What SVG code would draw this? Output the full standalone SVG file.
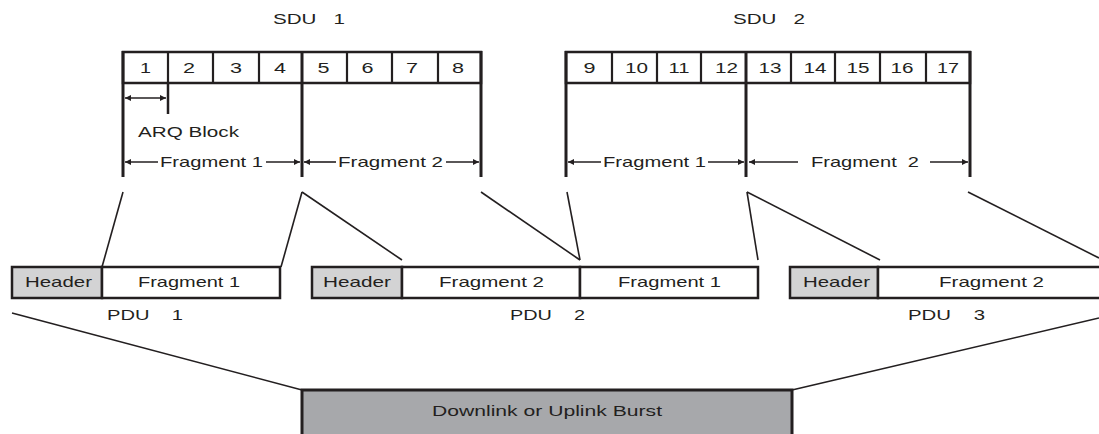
<svg xmlns="http://www.w3.org/2000/svg" width="1099" height="434" viewBox="0 0 1099 434">
  <style>
    text { font-family: "Liberation Sans", Arial, sans-serif; font-size: 15px; fill: #231f20; text-anchor: middle; white-space: pre; }
    .box { fill: #ffffff; stroke: #231f20; stroke-width: 2.5; }
    .hdr { fill: #d3d3d4; stroke: #231f20; stroke-width: 2.5; }
    .burst { fill: #a7a8ab; stroke: #231f20; stroke-width: 3; }
    .cell { stroke: #231f20; stroke-width: 2.2; fill: none; }
    .bar { stroke: #231f20; stroke-width: 3; fill: none; }
    .thin { stroke: #231f20; stroke-width: 1.6; fill: none; }
    .dim { stroke: #231f20; stroke-width: 1.6; fill: none; }
  </style>
  <defs>
    <marker id="ah" viewBox="0 0 10 10" refX="10" refY="5" markerWidth="8" markerHeight="6" markerUnits="userSpaceOnUse" orient="auto-start-reverse">
      <path d="M0,0 L10,5 L0,10 z" fill="#231f20"/>
    </marker>
  </defs>

  <!-- SDU 1 -->
  <g id="sdu1">
    <text x="309" y="24" textLength="72" lengthAdjust="spacingAndGlyphs" xml:space="preserve">SDU   1</text>
    <rect class="box" x="123" y="52" width="358" height="31"/>
    <path class="cell" d="M168,52V83 M213,52V83 M259,52V83 M347,52V83 M392,52V83 M438,52V83"/>
    <path class="bar" d="M123,51V177 M302,51V177 M481,51V177"/>
    <text x="145.5" y="73" textLength="11" lengthAdjust="spacingAndGlyphs">1</text>
    <text x="189" y="73" textLength="12" lengthAdjust="spacingAndGlyphs">2</text>
    <text x="236" y="73" textLength="12" lengthAdjust="spacingAndGlyphs">3</text>
    <text x="280" y="73" textLength="12" lengthAdjust="spacingAndGlyphs">4</text>
    <text x="323.5" y="73" textLength="12" lengthAdjust="spacingAndGlyphs">5</text>
    <text x="367.5" y="73" textLength="12" lengthAdjust="spacingAndGlyphs">6</text>
    <text x="412" y="73" textLength="12" lengthAdjust="spacingAndGlyphs">7</text>
    <text x="458" y="73" textLength="12" lengthAdjust="spacingAndGlyphs">8</text>
    <!-- ARQ block span -->
    <path class="bar" d="M168,83V114" style="stroke-width:2.5"/>
    <line class="dim" x1="125" y1="98" x2="166" y2="98" marker-start="url(#ah)" marker-end="url(#ah)"/>
    <text x="188.5" y="137" textLength="101" lengthAdjust="spacingAndGlyphs">ARQ Block</text>
    <!-- fragment spans -->
    <line class="dim" x1="158" y1="162" x2="125" y2="162" marker-end="url(#ah)"/>
    <text x="211.5" y="167" textLength="103" lengthAdjust="spacingAndGlyphs">Fragment 1</text>
    <line class="dim" x1="266" y1="162" x2="300" y2="162" marker-end="url(#ah)"/>
    <line class="dim" x1="336" y1="162" x2="304" y2="162" marker-end="url(#ah)"/>
    <text x="390.5" y="167" textLength="105" lengthAdjust="spacingAndGlyphs">Fragment 2</text>
    <line class="dim" x1="446" y1="162" x2="479" y2="162" marker-end="url(#ah)"/>
  </g>

  <!-- SDU 2 -->
  <g id="sdu2">
    <text x="769" y="24" textLength="72" lengthAdjust="spacingAndGlyphs" xml:space="preserve">SDU   2</text>
    <rect class="box" x="566" y="52" width="404" height="31"/>
    <path class="cell" d="M612,52V83 M657,52V83 M701,52V83 M791,52V83 M835,52V83 M880,52V83 M926,52V83"/>
    <path class="bar" d="M566,51V177 M746,51V177 M970,51V177"/>
    <text x="589.5" y="73" textLength="12" lengthAdjust="spacingAndGlyphs">9</text>
    <text x="636.5" y="73" textLength="23" lengthAdjust="spacingAndGlyphs">10</text>
    <text x="679" y="73" textLength="21" lengthAdjust="spacingAndGlyphs">11</text>
    <text x="726.5" y="73" textLength="23" lengthAdjust="spacingAndGlyphs">12</text>
    <text x="770" y="73" textLength="23" lengthAdjust="spacingAndGlyphs">13</text>
    <text x="815" y="73" textLength="23" lengthAdjust="spacingAndGlyphs">14</text>
    <text x="858" y="73" textLength="23" lengthAdjust="spacingAndGlyphs">15</text>
    <text x="902" y="73" textLength="23" lengthAdjust="spacingAndGlyphs">16</text>
    <text x="948" y="73" textLength="22" lengthAdjust="spacingAndGlyphs">17</text>
    <line class="dim" x1="601" y1="162" x2="568" y2="162" marker-end="url(#ah)"/>
    <text x="654.5" y="167" textLength="103" lengthAdjust="spacingAndGlyphs">Fragment 1</text>
    <line class="dim" x1="708" y1="162" x2="744" y2="162" marker-end="url(#ah)"/>
    <line class="dim" x1="798" y1="162" x2="749" y2="162" marker-end="url(#ah)"/>
    <text x="865" y="167" textLength="108" lengthAdjust="spacingAndGlyphs" xml:space="preserve">Fragment  2</text>
    <line class="dim" x1="930" y1="162" x2="968" y2="162" marker-end="url(#ah)"/>
  </g>

  <!-- PDU 1 -->
  <g id="pdu1">
    <rect class="hdr" x="12" y="267" width="90" height="31"/>
    <rect class="box" x="102" y="267" width="178" height="31"/>
    <text x="58.5" y="287" textLength="67" lengthAdjust="spacingAndGlyphs">Header</text>
    <text x="189" y="287" textLength="102" lengthAdjust="spacingAndGlyphs">Fragment 1</text>
    <text x="145" y="320" textLength="76" lengthAdjust="spacingAndGlyphs" xml:space="preserve">PDU    1</text>
  </g>

  <!-- PDU 2 -->
  <g id="pdu2">
    <rect class="hdr" x="312" y="267" width="90" height="31"/>
    <rect class="box" x="402" y="267" width="178" height="31"/>
    <rect class="box" x="580" y="267" width="178" height="31"/>
    <text x="357" y="287" textLength="68" lengthAdjust="spacingAndGlyphs">Header</text>
    <text x="491.5" y="287" textLength="105" lengthAdjust="spacingAndGlyphs">Fragment 2</text>
    <text x="669.5" y="287" textLength="103" lengthAdjust="spacingAndGlyphs">Fragment 1</text>
    <text x="547.5" y="320" textLength="75" lengthAdjust="spacingAndGlyphs" xml:space="preserve">PDU    2</text>
  </g>

  <!-- PDU 3 -->
  <g id="pdu3">
    <rect class="hdr" x="790" y="267" width="88" height="31"/>
    <rect class="box" x="878" y="267" width="240" height="31"/>
    <text x="836.5" y="287" textLength="67" lengthAdjust="spacingAndGlyphs">Header</text>
    <text x="991.5" y="287" textLength="105" lengthAdjust="spacingAndGlyphs">Fragment 2</text>
    <text x="946.5" y="320" textLength="77" lengthAdjust="spacingAndGlyphs" xml:space="preserve">PDU    3</text>
  </g>

  <!-- Burst -->
  <g id="burst">
    <rect class="burst" x="302" y="390" width="490" height="60"/>
    <text x="547" y="416" textLength="230" lengthAdjust="spacingAndGlyphs">Downlink or Uplink Burst</text>
  </g>

  <!-- Connectors: fragment mapping into PDUs, PDUs into burst -->
  <g id="connectors" class="thin">
    <line x1="123" y1="192" x2="102" y2="267"/>
    <line x1="302" y1="192" x2="281" y2="267"/>
    <line x1="302" y1="192" x2="402" y2="260"/>
    <line x1="481" y1="192" x2="580" y2="260"/>
    <line x1="567" y1="192" x2="580" y2="260"/>
    <line x1="747" y1="192" x2="758" y2="260"/>
    <line x1="747" y1="192" x2="880" y2="260"/>
    <line x1="968" y1="192" x2="1099" y2="258"/>
    <line x1="12" y1="313" x2="302" y2="390"/>
    <line x1="792" y1="390" x2="1099" y2="318"/>
  </g>
</svg>
